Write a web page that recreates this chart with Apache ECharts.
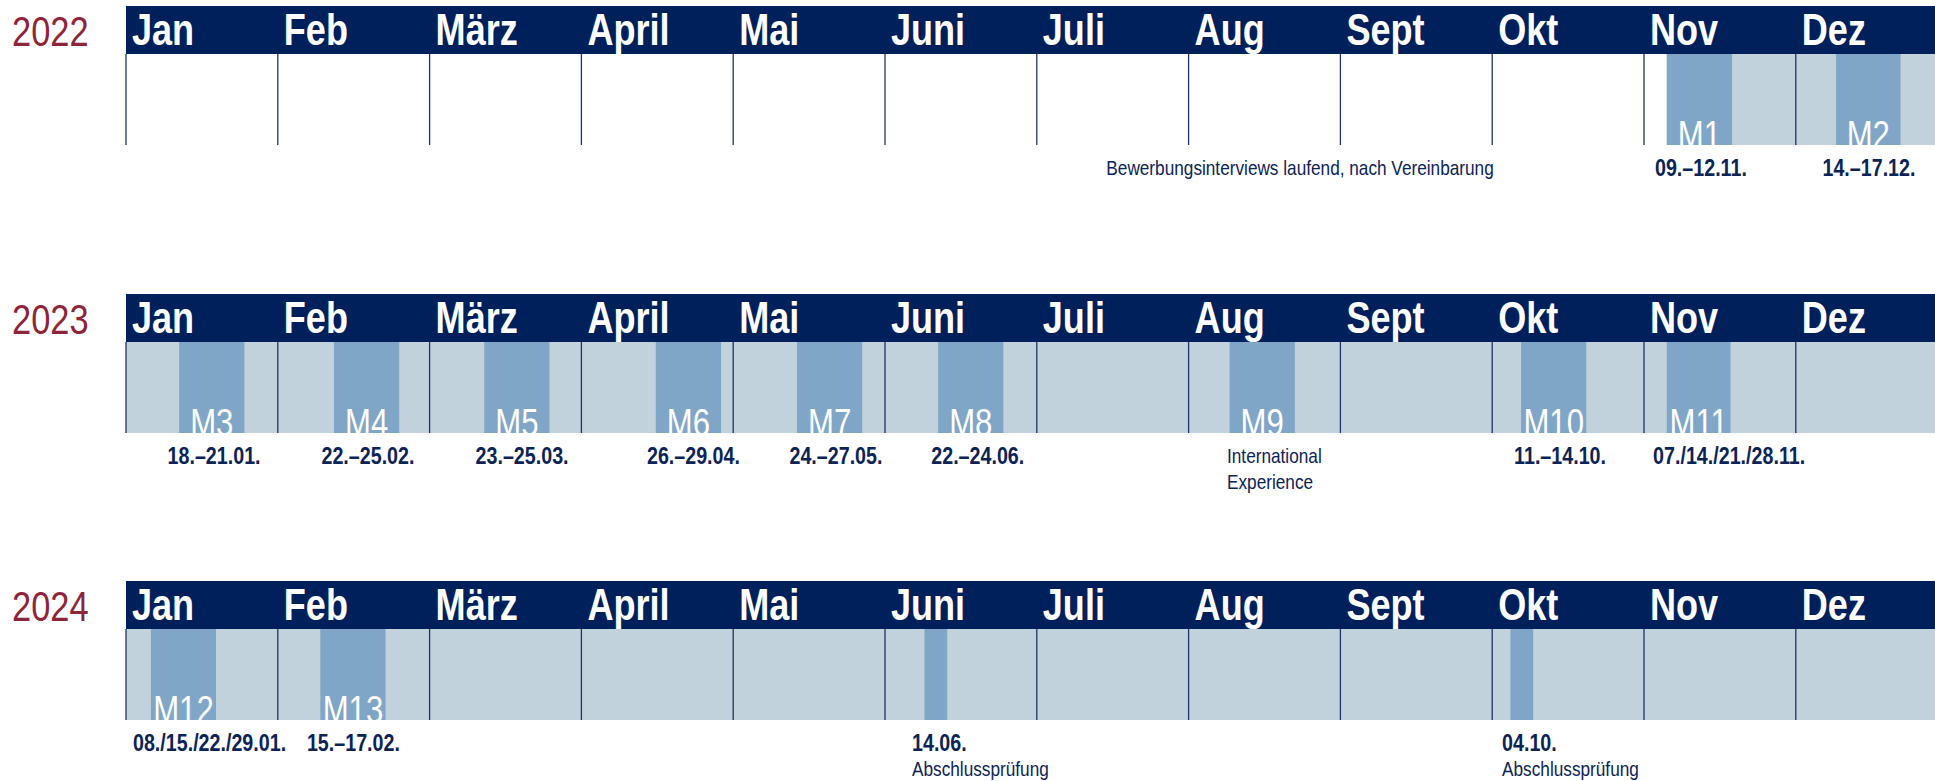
<!DOCTYPE html>
<html>
<head>
<meta charset="utf-8">
<title>Zeitplan 2022–2024</title>
<script src="https://cdn.jsdelivr.net/npm/echarts@6/dist/echarts.min.js"></script>
<style>
  html, body { margin: 0; padding: 0; background: #fff; }
  #chart { width: 1935px; height: 781px; }
</style>
</head>
<body>
<div id="chart"></div>
<script>
// eine Zeile pro Jahr, x-Achse in Monaten (0 = Anfang Jan, 12 = Ende Dez)
const years = ['2022', '2023', '2024']
const months = ['Jan', 'Feb', 'März', 'April', 'Mai', 'Juni', 'Juli', 'Aug', 'Sept', 'Okt', 'Nov', 'Dez']

// ab hier ist die Zeile hellblau hinterlegt
const fillStart = [10.15, 0, 0]

// Module / Prüfungen: Jahr, Beginn, Ende (in Monaten)
const modYear  = [0, 0, 1, 1, 1, 1, 1, 1, 1, 1, 1, 2, 2, 2, 2]
const modStart = [10.15, 11.265, 0.35, 1.37, 2.36, 3.49, 4.42, 5.35, 7.27, 9.19, 10.15, 0.164, 1.28, 5.26, 9.12]
const modEnd   = [10.58, 11.69, 0.78, 1.80, 2.79, 3.92, 4.85, 5.78, 7.70, 9.62, 10.57, 0.593, 1.71, 5.41, 9.27]
const modName  = ['M1', 'M2', 'M3', 'M4', 'M5', 'M6', 'M7', 'M8', 'M9', 'M10', 'M11', 'M12', 'M13', '', '']

// Beschriftungen unter den Zeilen
const noteYear  = [0, 0, 0, 1, 1, 1, 1, 1, 1, 1, 1, 1, 1, 2, 2, 2, 2, 2, 2]
const noteX     = [9.01, 10.375, 11.482, 0.58, 1.594, 2.609, 3.738, 4.677, 5.611, 7.253, 7.253, 9.447, 10.06, 0.046, 1.498, 5.178, 5.178, 9.065, 9.065]
const noteLine  = [0, 0, 0, 0, 0, 0, 0, 0, 0, 0, 1, 0, 0, 0, 0, 0, 1, 0, 1]
const noteAlign = ['right', 'center', 'center', 'center', 'center', 'center', 'center', 'center', 'center',
  'left', 'left', 'center', 'left', 'left', 'center', 'left', 'left', 'left', 'left']
const noteBold  = [0, 1, 1, 1, 1, 1, 1, 1, 1, 0, 0, 1, 1, 1, 1, 1, 0, 1, 0]
const noteText  = ['Bewerbungsinterviews laufend, nach Vereinbarung', '09.–12.11.', '14.–17.12.',
  '18.–21.01.', '22.–25.02.', '23.–25.03.', '26.–29.04.', '24.–27.05.', '22.–24.06.',
  'International', 'Experience', '11.–14.10.', '07./14./21./28.11.',
  '08./15./22./29.01.', '15.–17.02.', '14.06.', 'Abschlussprüfung', '04.10.', 'Abschlussprüfung']

// Layout
const rowTop = [54, 342, 629] // Oberkante des Zeilenkörpers
const BODY_H = 91
const HEAD_H = 48
const LEFT = 126
const MONTH_W = 151.8 // Dez wird am rechten Rand abgeschnitten
const FONT = '"Liberation Sans", Arial, sans-serif'
const SX = 0.82 // schmale Schrift nachbilden
const NAVY = '#00205b'
const LIGHT = '#c1d2dd'
const MOD = '#80a6c7'
const LINE = '#1e3468'

const chart = echarts.init(document.getElementById('chart'), null, { renderer: 'svg' })

// Text, horizontal gestaucht
const label = (text, x, y, font, fill, align) => ({
  type: 'text', x, y, scaleX: SX,
  style: { text, x: 0, y: 0, font, fill, align, verticalAlign: 'middle' }
})

const renderFill = (params, api) => {
  const a = api.coord([api.value(0), 1])
  const b = api.coord([api.value(1), 0])
  return { type: 'rect', shape: { x: a[0], y: a[1], width: b[0] - a[0], height: b[1] - a[1] }, style: { fill: LIGHT } }
}

const renderModule = (params, api) => {
  const a = api.coord([api.value(0), 1])
  const b = api.coord([api.value(1), 0])
  const k = api.value(2)
  return {
    type: 'group',
    children: [
      { type: 'rect', shape: { x: a[0], y: a[1], width: b[0] - a[0], height: b[1] - a[1] }, style: { fill: MOD } },
      label(modName[k], (a[0] + b[0]) / 2, b[1] - 10, '38px ' + FONT, '#fff', 'center')
    ]
  }
}

const renderMonth = (params, api) => {
  const a = api.coord([api.value(0), 1])
  const b = api.coord([api.value(1), 0])
  const k = api.value(0)
  return {
    type: 'group',
    children: [
      { type: 'rect', shape: { x: a[0], y: a[1] - HEAD_H, width: b[0] - a[0] + 1, height: HEAD_H }, style: { fill: NAVY } },
      label(months[k], a[0] + 6, a[1] - HEAD_H + 24, 'bold 44px ' + FONT, '#fff', 'left'),
      { type: 'line', shape: { x1: a[0], y1: a[1], x2: a[0], y2: b[1] }, style: { stroke: LINE, lineWidth: 1.3 } }
    ]
  }
}

const renderNote = (params, api) => {
  const p = api.coord([api.value(0), 0])
  const k = api.value(1)
  return label(noteText[k], p[0], p[1] + 23 + noteLine[k] * 26,
    (noteBold[k] ? 'bold 24px ' : '21px ') + FONT, '#0c2356', noteAlign[k])
}

const grid = [], xAxis = [], yAxis = [], series = [], graphic = []
years.forEach((y, i) => {
  grid.push({ left: LEFT, top: rowTop[i], right: 0, height: BODY_H })
  // sichtbarer Ausschnitt endet am rechten Bildrand
  xAxis.push({ type: 'value', gridIndex: i, min: 0, max: (1935 - LEFT) / MONTH_W, show: false })
  yAxis.push({ type: 'value', gridIndex: i, min: 0, max: 1, show: false })

  series.push({
    type: 'custom', xAxisIndex: i, yAxisIndex: i, z: 1, silent: true,
    renderItem: renderFill, data: [[fillStart[i], 12]]
  })
  series.push({
    type: 'custom', xAxisIndex: i, yAxisIndex: i, z: 2, silent: true, clip: true,
    renderItem: renderModule,
    data: modYear.map((yr, k) => yr === i ? [modStart[k], modEnd[k], k] : null).filter(d => d)
  })
  series.push({
    type: 'custom', xAxisIndex: i, yAxisIndex: i, z: 3, silent: true,
    renderItem: renderMonth, data: months.map((m, k) => [k, k + 1])
  })
  series.push({
    type: 'custom', xAxisIndex: i, yAxisIndex: i, z: 3, silent: true,
    renderItem: renderNote,
    data: noteYear.map((yr, k) => yr === i ? [noteX[k], k] : null).filter(d => d)
  })

  graphic.push({
    type: 'text', x: 12, y: rowTop[i] - HEAD_H + 25, scaleX: SX,
    style: { text: y, fill: '#8e2439', font: '42px ' + FONT, verticalAlign: 'middle' }
  })
})

chart.setOption({ animation: false, grid, xAxis, yAxis, series, graphic })
</script>
</body>
</html>
